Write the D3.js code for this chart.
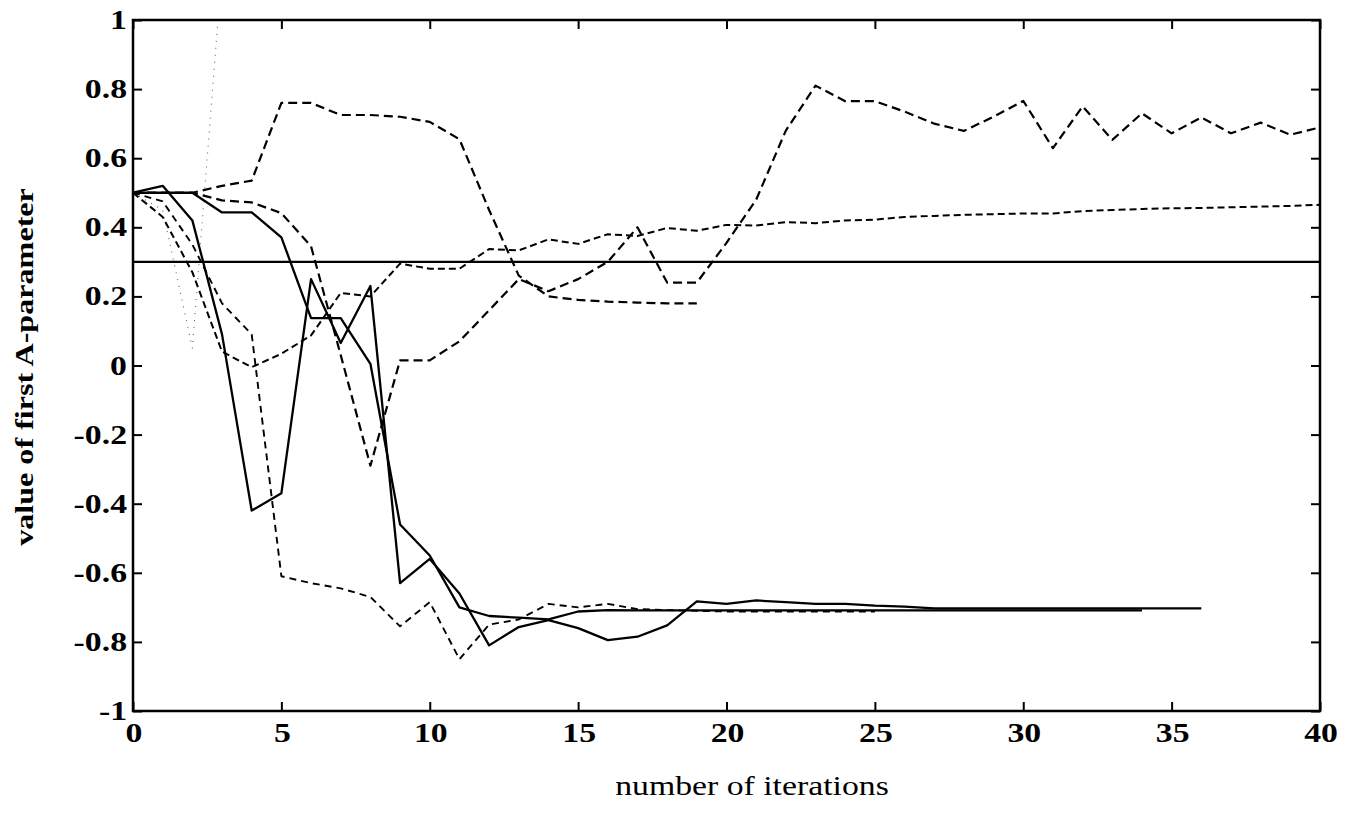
<!DOCTYPE html>
<html><head><meta charset="utf-8">
<script src="https://cdn.jsdelivr.net/npm/d3@7"></script>
<style>body{margin:0;background:#fff} svg{display:block}</style>
</head><body><svg id="c" width="1354" height="820"></svg>
<script>
// ---- data ----
const xTicks = [0, 5, 10, 15, 20, 25, 30, 35, 40];
const xTickLabels = ["0", "5", "10", "15", "20", "25", "30", "35", "40"];
const yTicks = [1, 0.8, 0.6, 0.4, 0.2, 0, -0.2, -0.4, -0.6, -0.8, -1];
const yTickLabels = ["1", "0.8", "0.6", "0.4", "0.2", "0", "-0.2", "-0.4", "-0.6", "-0.8", "-1"];
const xLabel = "number of iterations";
const yLabel = "value of first A-parameter";

// true value (horizontal reference), given at iterations 0 and 40
const trueIter = [0, 40];
const trueValue = [0.3, 0.3];

// values indexed by iteration number (0, 1, 2, ...)
const solid1 = [0.5, 0.52, 0.42, 0.09, -0.42, -0.37, 0.25, 0.065, 0.23, -0.63, -0.56, -0.66, -0.81, -0.757, -0.737, -0.76, -0.795, -0.785, -0.752, -0.683, -0.69, -0.68, -0.685, -0.69, -0.69, -0.695, -0.698, -0.703, -0.703, -0.703, -0.703, -0.703, -0.703, -0.703, -0.703, -0.703, -0.703];
const solid2 = [0.5, 0.5, 0.5, 0.443, 0.443, 0.371, 0.137, 0.137, 0.005, -0.46, -0.55, -0.70, -0.725, -0.73, -0.735, -0.712, -0.708, -0.709, -0.709, -0.709, -0.709, -0.709, -0.709, -0.709, -0.709, -0.709, -0.709, -0.709, -0.709, -0.709, -0.709, -0.709, -0.709, -0.709, -0.709];
const dashA = [0.5, 0.5, 0.5, 0.52, 0.535, 0.76, 0.76, 0.725, 0.725, 0.72, 0.705, 0.655, 0.45, 0.26, 0.2, 0.19, 0.185, 0.182, 0.18, 0.18];
const dashB = [0.5, 0.5, 0.5, 0.478, 0.472, 0.441, 0.345, 0.03, -0.29, 0.015, 0.015, 0.07, 0.16, 0.25, 0.215, 0.25, 0.30, 0.40, 0.24, 0.24, 0.355, 0.48, 0.68, 0.81, 0.765, 0.765, 0.735, 0.70, 0.679, 0.72, 0.766, 0.629, 0.75, 0.653, 0.73, 0.672, 0.718, 0.672, 0.703, 0.668, 0.689];
const dashC = [0.5, 0.43, 0.27, 0.04, -0.005, 0.034, 0.087, 0.21, 0.2, 0.295, 0.28, 0.28, 0.337, 0.333, 0.365, 0.352, 0.38, 0.375, 0.398, 0.39, 0.407, 0.405, 0.415, 0.412, 0.42, 0.422, 0.43, 0.433, 0.436, 0.438, 0.44, 0.44, 0.447, 0.45, 0.453, 0.455, 0.456, 0.458, 0.46, 0.462, 0.465];
const dashD = [0.5, 0.475, 0.35, 0.18, 0.09, -0.61, -0.63, -0.645, -0.67, -0.755, -0.685, -0.85, -0.75, -0.735, -0.69, -0.70, -0.69, -0.705, -0.708, -0.71, -0.712, -0.712, -0.712, -0.712, -0.712, -0.712];
const dotted = [0.5, 0.45, 0.05, 1.15];

// ---- drawing ----
const svg = d3.select("#c");
const L = 133, R = 1320, T = 20, B = 711;
const x = d3.scaleLinear().domain([0, 40]).range([L, R]);
const y = d3.scaleLinear().domain([-1, 1]).range([B, T]);

svg.append("defs").append("clipPath").attr("id", "clip")
  .append("rect").attr("x", L).attr("y", T).attr("width", R - L).attr("height", B - T);

const line = d3.line().x(d => x(d[0])).y(d => y(d[1]));
const toPts = arr => arr.map((v, i) => [i, v]);

const plot = svg.append("g").attr("clip-path", "url(#clip)");
const series = [
  { pts: toPts(dotted), w: 1.1, dash: "1,6", col: "#666" },
  { pts: trueIter.map((it, i) => [it, trueValue[i]]), w: 2.3, dash: null, col: "#000" },
  { pts: toPts(solid1), w: 2.3, dash: null, col: "#000" },
  { pts: toPts(solid2), w: 2.3, dash: null, col: "#000" },
  { pts: toPts(dashA), w: 2.2, dash: "9,5", col: "#000" },
  { pts: toPts(dashB), w: 2.2, dash: "9,5", col: "#000" },
  { pts: toPts(dashC), w: 2.0, dash: "7,4", col: "#000" },
  { pts: toPts(dashD), w: 1.9, dash: "7,5", col: "#000" }
];
series.forEach(s => {
  plot.append("path").attr("d", line(s.pts))
    .attr("fill", "none").attr("stroke", s.col)
    .attr("stroke-width", s.w)
    .attr("stroke-linejoin", "round")
    .attr("stroke-dasharray", s.dash);
});

// axes with inward ticks on all four sides
const tk = 9;
svg.append("g").attr("transform", `translate(0,${B})`)
  .call(d3.axisBottom(x).tickValues(xTicks).tickSize(-tk).tickFormat(""));
svg.append("g").attr("transform", `translate(0,${T})`)
  .call(d3.axisTop(x).tickValues(xTicks).tickSize(-tk).tickFormat(""));
svg.append("g").attr("transform", `translate(${L},0)`)
  .call(d3.axisLeft(y).tickValues(yTicks).tickSize(-tk).tickFormat(""));
svg.append("g").attr("transform", `translate(${R},0)`)
  .call(d3.axisRight(y).tickValues(yTicks).tickSize(-tk).tickFormat(""));
svg.selectAll(".domain").remove();
svg.selectAll(".tick line").attr("stroke", "#000").attr("stroke-width", 2);

svg.append("rect").attr("x", L).attr("y", T).attr("width", R - L).attr("height", B - T)
  .attr("fill", "none").attr("stroke", "#000").attr("stroke-width", 2.5);

const font = "'Liberation Serif', 'Times New Roman', serif";
// y tick labels
yTicks.forEach((v, i) => {
  svg.append("g").attr("transform", `translate(127,${y(v) + 9}) scale(1.25,1)`)
    .append("text").text(yTickLabels[i])
    .attr("text-anchor", "end").attr("font-family", font)
    .attr("font-weight", "bold").attr("font-size", 27).attr("fill", "#000");
});
// x tick labels
xTicks.forEach((v, i) => {
  svg.append("g").attr("transform", `translate(${x(v) + 1},742) scale(1.25,1)`)
    .append("text").text(xTickLabels[i])
    .attr("text-anchor", "middle").attr("font-family", font)
    .attr("font-weight", "bold").attr("font-size", 27).attr("fill", "#000");
});
// axis titles
svg.append("g").attr("transform", `translate(752,795) scale(1.25,1)`)
  .append("text").text(xLabel).attr("text-anchor", "middle")
  .attr("font-family", font).attr("font-size", 27).attr("fill", "#000");
svg.append("g").attr("transform", `translate(33,367) rotate(-90) scale(1.26,1)`)
  .append("text").text(yLabel).attr("text-anchor", "middle")
  .attr("font-family", font).attr("font-weight", "bold").attr("font-size", 25.5).attr("fill", "#000");
</script></body></html>
